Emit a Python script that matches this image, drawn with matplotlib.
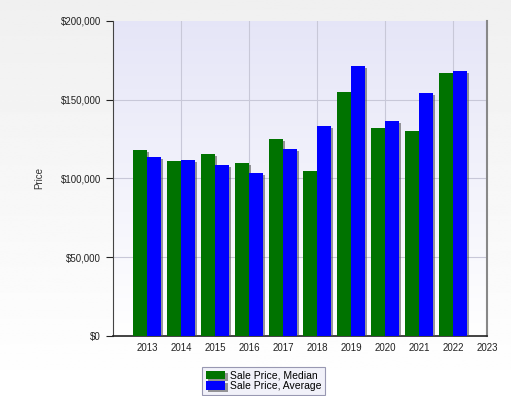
import matplotlib.pyplot as plt
import numpy as np
import matplotlib.patheffects as pe
from matplotlib.ticker import FuncFormatter

years = [2013, 2014, 2015, 2016, 2017, 2018, 2019, 2020, 2021, 2022]
median_price = [118000, 111000, 115300, 110100, 124900, 104800, 155100, 132300, 130200, 166800]
average_price = [113800, 111700, 108400, 103500, 118500, 133300, 171400, 136500, 154500, 168300]
year_ticks = list(range(2013, 2024))

plt.rcParams['font.family'] = ['Liberation Sans', 'DejaVu Sans']

fig = plt.figure(figsize=(5.11, 3.96), dpi=100)

# light grey page background fading to white
bg = fig.add_axes([0, 0, 1, 1], zorder=-10)
bg.imshow(np.linspace(0.94, 1.0, 256).reshape(-1, 1), cmap='gray', vmin=0, vmax=1,
          aspect='auto', extent=[0, 1, 0, 1])
bg.axis('off')

ax = fig.add_axes([0.221, 0.1515, 0.732, 0.7955])
ax.set_facecolor('none')

# lavender plot area gradient, darker at the top
grad = np.linspace(0, 1, 256).reshape(-1, 1)
top = np.array([0.90, 0.90, 0.97])
bottom = np.array([1.0, 1.0, 1.0])
img = top + (bottom - top) * grad[..., None]
ax.imshow(img.reshape(256, 1, 3), aspect='auto', extent=[2012, 2023, 0, 200000],
          origin='upper', zorder=0)

x = np.array(years)
w = 0.41
shadow = [pe.SimplePatchShadow(offset=(1.5, -1.5), shadow_rgbFace='#555555', alpha=0.6),
          pe.Normal()]
b1 = ax.bar(x - w / 2, median_price, width=w, color='#007300', label='Sale Price, Median',
            zorder=3)
b2 = ax.bar(x + w / 2, average_price, width=w, color='#0000ff', label='Sale Price, Average',
            zorder=3)
for bar in list(b1) + list(b2):
    bar.set_path_effects(shadow)

ax.set_xlim(2012, 2023)
ax.set_ylim(0, 200000)
ax.set_yticks([0, 50000, 100000, 150000, 200000])
ax.yaxis.set_major_formatter(FuncFormatter(lambda v, p: '${:,.0f}'.format(v)))
ax.set_xticks(year_ticks)
ax.tick_params(axis='x', length=0, labelsize=7, pad=5, colors='#222222')
ax.tick_params(axis='y', length=5, labelsize=7, colors='#222222', direction='out')

for gx in [2014, 2016, 2018, 2020, 2022]:
    ax.axvline(gx, color='#c8c8d8', lw=0.8, zorder=1)
for gy in [50000, 100000, 150000]:
    ax.axhline(gy, color='#c8c8d8', lw=0.8, zorder=1)

ax.spines['top'].set_visible(False)
ax.spines['right'].set_color('#888888')
ax.spines['right'].set_linewidth(1.5)
ax.spines['left'].set_color('#444444')
ax.spines['bottom'].set_color('#222222')
ax.spines['bottom'].set_linewidth(1.2)

ax.set_ylabel('Price', fontsize=7, color='#333333', labelpad=12)

leg = fig.legend(handles=[b1, b2], loc='upper left', bbox_to_anchor=(202 / 511, 1 - 367 / 396),
                 fontsize=7.5, frameon=True, fancybox=False, edgecolor='#8080a0',
                 facecolor='#eeeef8', handlelength=1.9, handleheight=0.9,
                 borderpad=0.35, labelspacing=0.05, handletextpad=0.4, borderaxespad=0)
leg.get_frame().set_linewidth(0.8)

fig.savefig('out.png', dpi=100)
